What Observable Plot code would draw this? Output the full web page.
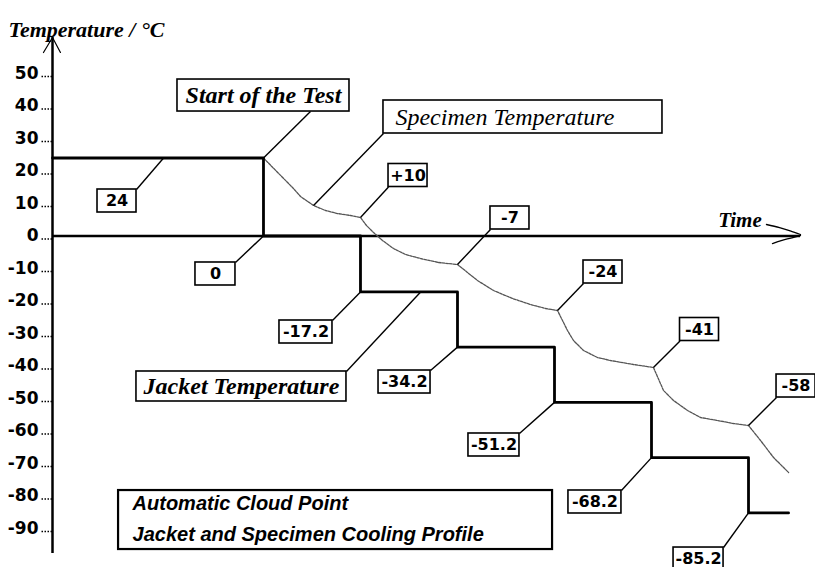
<!DOCTYPE html>
<html><head><meta charset="utf-8">
<script src="https://cdn.jsdelivr.net/npm/d3@7"></script>
<script src="https://cdn.jsdelivr.net/npm/@observablehq/plot@0.6"></script>
<style>html,body{margin:0;padding:0;background:#fff;} #chart svg{display:block;}</style>
</head><body><div id="chart"></div>
<script>
// ---------- data ----------
const yTicks = [50, 40, 30, 20, 10, 0, -10, -20, -30, -40, -50, -60, -70, -80, -90];
const recordStart = -21.75;           // time at the temperature axis
const recordEnd = 54.13;
const jacketStepTimes = [0, 10, 20, 30, 40, 50];
const jacketTemps = [24, 0, -17.2, -34.2, -51.2, -68.2, -85.2];
const jacketLabels = ["24", "0", "-17.2", "-34.2", "-51.2", "-68.2", "-85.2"];
const specTime = [0, 3.09, 3.82, 5.16, 6.39, 7.63, 8.97, 10.00, 10.62, 11.34, 12.27, 13.40, 14.64, 16.19, 18.04, 20.00,
  22.06, 23.71, 25.67, 27.53, 29.07, 30.31, 31.34, 31.96, 32.99, 34.43, 35.77, 38.14, 40.20,
  41.24, 42.27, 43.71, 45.05, 46.80, 48.45, 50.00, 51.24, 52.58, 54.13];
const specTemp = [24, 14.62, 12.15, 9.39, 7.85, 6.92, 6.31, 5.69, 3.23, 1.08, -1.38, -3.85, -5.69, -6.92, -8.15, -8.77,
  -13.69, -16.77, -19.23, -21.08, -22.31, -22.92, -29.08, -32.16, -35.23, -37.39, -38.31, -39.54, -40.46,
  -47.54, -50.62, -53.69, -55.85, -56.77, -57.70, -58.31, -62.92, -68.16, -72.77];
const specKinkTimes = [10, 20, 30.31, 40.20, 50];
const specLabels = ["+10", "-7", "-24", "-41", "-58"];
const titleText = "Temperature / °C";
const timeText = "Time";
const startText = "Start of the Test";
const specName = "Specimen Temperature";
const jacketName = "Jacket Temperature";
const captionText = "Automatic Cloud Point\nJacket and Specimen Cooling Profile";

// ---------- layout ----------
const W = 815, H = 567;
const M = {left: 52, right: 15, top: 35, bottom: 14};
const X_DOMAIN = [recordStart, 55.36];
const Y_DOMAIN = [-97.7, 61.7];
const KX = (W - M.left - M.right) / (X_DOMAIN[1] - X_DOMAIN[0]);
const KY = (H - M.top - M.bottom) / (Y_DOMAIN[1] - Y_DOMAIN[0]);

const jacket = [{t: recordStart, v: jacketTemps[0]},
  ...jacketStepTimes.map((t, i) => ({t, v: jacketTemps[i + 1]})),
  {t: recordEnd, v: jacketTemps[jacketTemps.length - 1]}];
const spec = specTime.map((t, i) => ({t, v: specTemp[i]}));
const specAt = t => specTemp[specTime.indexOf(t)];

// callout boxes: box centre in data units, size in px, leader start offset in px from centre
const num = "num", serifB = "serifB", serifI = "serifI";
const callouts = [
  {text: jacketLabels[0], ax: -10.3, ay: jacketTemps[0], bx: -15.10, by: 10.77, w: 39, h: 23, lead: "tr", kind: num},
  {text: jacketLabels[1], ax: jacketStepTimes[0], ay: jacketTemps[1], bx: -4.95, by: -11.69, w: 40, h: 23, lead: "tr", kind: num},
  {text: startText, ax: jacketStepTimes[0], ay: jacketTemps[0], bx: 0, by: 43.23, w: 172, h: 32, lead: [47, 16], kind: serifB},
  {text: specName, ax: specTime[3], ay: specTemp[3], bx: 26.75, by: 36.62, w: 279, h: 33, lead: "bl", kind: serifI},
  ...specLabels.map((s, i) => ({text: s, ax: specKinkTimes[i], ay: specAt(specKinkTimes[i]),
    bx: [14.90, 25.41, 35.0, 44.95, 54.9][i], by: [18.62, 5.54, -11.08, -28.77, -46.16][i],
    w: 39, h: 23, lead: "bl", kind: num})),
  {text: jacketLabels[2], ax: jacketStepTimes[1], ay: jacketTemps[2], bx: 4.38, by: -29.54, w: 53, h: 23, lead: "tr", kind: num},
  {text: jacketName, ax: 16.2, ay: jacketTemps[2], bx: -2.27, by: -46.31, w: 210, h: 30, lead: "tr", kind: serifB},
  {text: jacketLabels[3], ax: jacketStepTimes[2], ay: jacketTemps[3], bx: 14.54, by: -44.93, w: 52, h: 23, lead: "tr", kind: num},
  {text: jacketLabels[4], ax: jacketStepTimes[3], ay: jacketTemps[4], bx: 23.76, by: -64.31, w: 51, h: 23, lead: "tr", kind: num},
  {text: jacketLabels[5], ax: jacketStepTimes[4], ay: jacketTemps[5], bx: 34.17, by: -81.85, w: 53, h: 23, lead: "tr", kind: num},
  {text: jacketLabels[6], ax: jacketStepTimes[5], ay: jacketTemps[6], bx: 44.85, by: -99.4, w: 50, h: 23, lead: "tr", kind: num}
];
callouts.forEach(d => {
  const o = d.lead === "tr" ? [d.w / 2, -d.h / 2] : d.lead === "bl" ? [-d.w / 2, d.h / 2] : d.lead;
  d.lx = d.bx + o[0] / KX; d.ly = d.by - o[1] / KY;
  d.x1 = d.bx - d.w / 2 / KX; d.x2 = d.bx + d.w / 2 / KX;
  d.y1 = d.by - d.h / 2 / KY; d.y2 = d.by + d.h / 2 / KY;
  d.tx = d.kind === serifI ? d.x1 + 12 / KX : d.bx;
});
const caption = {text: captionText, bx: 7.43, by: -87.4, w: 434, h: 59};
caption.x1 = caption.bx - caption.w / 2 / KX; caption.x2 = caption.bx + caption.w / 2 / KX;
caption.y1 = caption.by - caption.h / 2 / KY; caption.y2 = caption.by + caption.h / 2 / KY;
caption.tx = caption.x1 + 14 / KX;

const yAxisTop = 61.1;
const yArrow = [{t: -22.68, v: 56.47}, {t: X_DOMAIN[0], v: yAxisTop}, {t: -20.93, v: 56.47}];
const xArrowUp = [{t: 51.85, v: 3.54}, {t: 53.2, v: 2.6}, {t: 54.3, v: 1.6}, {t: X_DOMAIN[1], v: 0.46}];
const xArrowDown = [{t: 52.47, v: -2.31}, {t: 54.0, v: -0.9}, {t: X_DOMAIN[1], v: 0.15}];

const serif = "'Liberation Serif', 'Times New Roman', serif";
const sansNum = "'DejaVu Sans', sans-serif";

const chart = Plot.plot({
  width: W, height: H,
  marginLeft: M.left, marginRight: M.right, marginTop: M.top, marginBottom: M.bottom,
  style: {fontFamily: sansNum, fontSize: "17px", background: "white", color: "black"},
  x: {domain: X_DOMAIN, axis: null},
  y: {domain: Y_DOMAIN},
  marks: [
    // dotted tick marks sit a little below the label centres, as in the original
    Plot.axisY({ticks: yTicks, tickSize: 12, tickFormat: () => "", strokeDasharray: "1.5,1.5",
      strokeWidth: 1.5, dy: 3}),
    Plot.axisY({ticks: yTicks, tickSize: 0, tickPadding: 14, tickFormat: d => String(d),
      fontWeight: "bold", fontSize: 17}),
    Plot.ruleX([X_DOMAIN[0]], {y1: Y_DOMAIN[0], y2: yAxisTop, strokeWidth: 2.5}),
    Plot.line(yArrow, {x: "t", y: "v", strokeWidth: 1.2}),
    Plot.ruleY([0], {strokeWidth: 2.5}),
    Plot.line(xArrowUp, {x: "t", y: "v", strokeWidth: 1.3, curve: "catmull-rom"}),
    Plot.line(xArrowDown, {x: "t", y: "v", strokeWidth: 1.3, curve: "catmull-rom"}),
    Plot.line(spec, {x: "t", y: "v", stroke: "#555", strokeWidth: 1.3, strokeDasharray: "2.5,1.2"}),
    Plot.line(jacket, {x: "t", y: "v", curve: "step-after", stroke: "black", strokeWidth: 2.8}),
    Plot.link(callouts, {x1: "ax", y1: "ay", x2: "lx", y2: "ly", stroke: "black", strokeWidth: 1.4}),
    Plot.rect(callouts, {x1: "x1", x2: "x2", y1: "y1", y2: "y2", fill: "white", stroke: "black", strokeWidth: 1.6}),
    Plot.rect([caption], {x1: "x1", x2: "x2", y1: "y1", y2: "y2", fill: "white", stroke: "black", strokeWidth: 2.2}),
    Plot.text(callouts.filter(d => d.kind === num), {x: "tx", y: "by", text: "text", fontFamily: sansNum,
      fontWeight: "bold", fontSize: 16, fill: "black"}),
    Plot.text(callouts.filter(d => d.kind === serifB), {x: "tx", y: "by", text: "text", fontFamily: serif,
      fontWeight: "bold", fontStyle: "italic", fontSize: 24, fill: "black"}),
    Plot.text(callouts.filter(d => d.kind === serifI), {x: "tx", y: "by", text: "text", fontFamily: serif,
      fontStyle: "italic", fontSize: 24, textAnchor: "start", fill: "black"}),
    Plot.text([caption], {x: "tx", y: "by", text: "text", fontFamily: "'Liberation Sans', Arial, sans-serif",
      fontWeight: "bold", fontStyle: "italic", fontSize: 20, textAnchor: "start", lineAnchor: "middle",
      lineHeight: 1.55, dy: -4, fill: "black"}),
    Plot.text([timeText], {x: 49.12, y: 4.77, fontFamily: serif, fontWeight: "bold", fontStyle: "italic",
      fontSize: 21, fill: "black"}),
    Plot.text([titleText], {frameAnchor: "top-left", dx: -44, dy: -14.5, textAnchor: "start",
      fontFamily: serif, fontWeight: "bold", fontStyle: "italic", fontSize: 22, fill: "black"})
  ]
});
document.getElementById("chart").append(chart);
</script>
</body></html>
